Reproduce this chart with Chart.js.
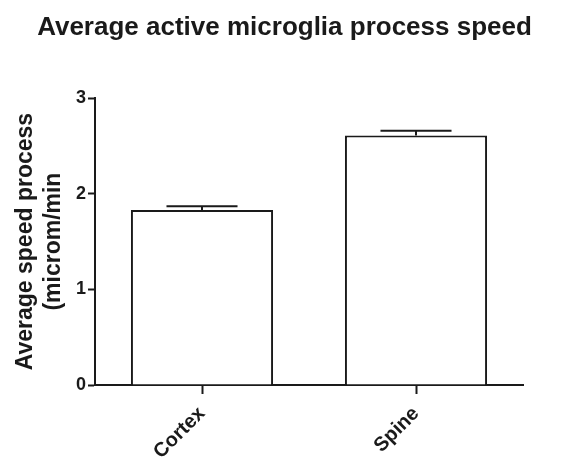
<!DOCTYPE html>
<html>
<head>
<meta charset="utf-8">
<script src="https://cdn.jsdelivr.net/npm/chart.js@4.4.1/dist/chart.umd.min.js"></script>
<style>
  html, body { margin: 0; padding: 0; background: #fff; }
  #wrap { width: 569px; height: 459px; }
</style>
</head>
<body>
<div id="wrap"><canvas id="speedChart" width="569" height="459"></canvas></div>
<script>
// values
const categories = ['Cortex', 'Spine'];
const meanSpeed = [1.83, 2.61];
const semSpeed = [0.04, 0.05];
const yTicks = [0, 1, 2, 3];

const ink = '#1a1a1a';
const fontFamily = '"Liberation Sans", Arial, Helvetica, sans-serif';

// draws the SEM whiskers on top of each bar
const errorBars = {
    id: 'errorBars',
    afterDatasetsDraw(chart) {
        const ctx = chart.ctx;
        const yScale = chart.scales.y;
        const meta = chart.getDatasetMeta(0);
        ctx.save();
        ctx.strokeStyle = ink;
        ctx.lineWidth = 2;
        meta.data.forEach((bar, i) => {
            const top = yScale.getPixelForValue(meanSpeed[i] + semSpeed[i]);
            const half = bar.width / 4;
            ctx.beginPath();
            ctx.moveTo(bar.x, bar.y);
            ctx.lineTo(bar.x, top);
            ctx.moveTo(bar.x - half, top);
            ctx.lineTo(bar.x + half, top);
            ctx.stroke();
        });
        ctx.restore();
    }
};

// keep the title centred on the whole canvas, not on the padded box
const centreTitle = {
    id: 'centreTitle',
    afterLayout(chart) {
        if (chart.titleBlock) {
            chart.titleBlock.left = 0;
            chart.titleBlock.right = chart.width;
        }
    }
};

const ctx = document.getElementById('speedChart').getContext('2d');
new Chart(ctx, {
    type: 'bar',
    data: {
        labels: categories,
        datasets: [{
            data: meanSpeed,
            backgroundColor: '#ffffff',
            borderColor: ink,
            borderWidth: 2,
            barPercentage: 0.664,
            categoryPercentage: 1.0
        }]
    },
    options: {
        responsive: false,
        animation: false,
        layout: { padding: { left: 0, right: 46, top: 0, bottom: 0 } },
        plugins: {
            legend: { display: false },
            tooltip: { enabled: false },
            title: {
                display: true,
                text: 'Average active microglia process speed',
                color: ink,
                font: { family: fontFamily, size: 26, weight: 'bold', lineHeight: 1.2 },
                padding: { top: 12, bottom: 55 }
            }
        },
        scales: {
            x: {
                offset: true,
                grid: {
                    offset: false,
                    drawOnChartArea: false,
                    drawTicks: true,
                    tickLength: 9,
                    tickWidth: 2,
                    tickColor: ink
                },
                border: { display: true, color: ink, width: 2 },
                ticks: {
                    color: ink,
                    font: { family: fontFamily, size: 20, weight: 'bold' },
                    minRotation: 45,
                    maxRotation: 45,
                    padding: 8
                },
                afterFit(scale) { scale.height = 74; }
            },
            y: {
                min: 0,
                max: 3,
                afterBuildTicks(scale) {
                    scale.ticks = yTicks.map(v => ({ value: v }));
                },
                grid: {
                    drawOnChartArea: false,
                    drawTicks: true,
                    tickLength: 7,
                    tickWidth: 2,
                    tickColor: ink
                },
                border: { display: true, color: ink, width: 2 },
                ticks: {
                    color: ink,
                    font: { family: fontFamily, size: 18, weight: 'bold' },
                    padding: 2
                },
                title: {
                    display: true,
                    text: ['Average speed process', '(microm/min'],
                    color: ink,
                    font: { family: fontFamily, size: 23, weight: 'bold', lineHeight: 1.25 },
                    padding: { top: 11, bottom: 0 }
                },
                afterFit(scale) { scale.width = 95; }
            }
        }
    },
    plugins: [errorBars, centreTitle]
});
</script>
</body>
</html>
